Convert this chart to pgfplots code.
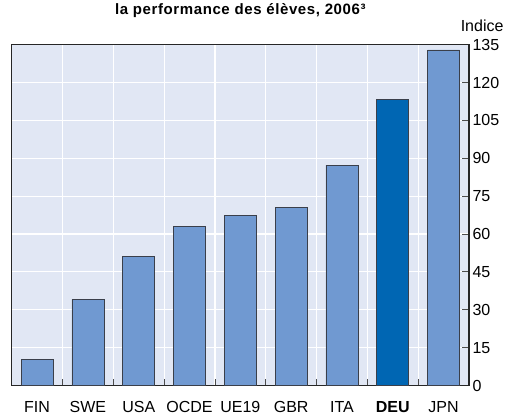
\documentclass[border=0pt]{standalone}
\usepackage{fontspec}
\setmainfont{Liberation Sans}
\usepackage{pgfplots}
\pgfplotsset{compat=1.18}
\definecolor{bg}{HTML}{E1E7F4}
\definecolor{barL}{HTML}{7099D1}
\definecolor{barD}{HTML}{0066B3}
\definecolor{edge}{HTML}{3A3F4A}
\begin{document}
\begin{tikzpicture}
\begin{axis}[
  set layers,
  at={(0,0)}, anchor=south west,
  scale only axis, width=457.3pt, height=340.8pt,
  xmin=-0.5, xmax=8.5, ymin=0, ymax=135,
  clip=false,
  axis background/.style={fill=bg},
  axis line style={black!85, line width=1.3pt},
  ytick={0,15,...,135},
  ytick pos=right, yticklabel pos=right,
  tick align=inside,
  xtick={0,...,8},
  xticklabels={FIN,SWE,USA,OCDE,UE19,GBR,ITA,\textbf{DEU},JPN},
  minor xtick={0.5,1.5,...,7.5},
  xtick pos=bottom,
  major tick length=6.5pt, minor tick length=6.5pt,
  every tick/.style={black!70, line width=0.8pt},
  major x tick style={draw=none},
  ymajorgrids, xminorgrids,
  major grid style={white, line width=1.2pt},
  minor grid style={white, line width=1.2pt},
  tick label style={font=\fontsize{16}{18}\selectfont},
  /pgf/number format/assume math mode=true,
  xticklabel style={anchor=base, yshift=-26.8pt, inner sep=0pt},
  yticklabel style={anchor=west},
  bar shift=0pt,
]
\addplot[ybar, bar width=32pt, fill=barL, draw=edge, line width=0.8pt] coordinates {
(0,10.2) (1,34.1) (2,51.2) (3,63.0) (4,67.4) (5,70.6) (6,87.3) (8,132.9)};
\addplot[ybar, bar width=32pt, fill=barD, draw=edge, line width=0.8pt] coordinates {
(7,113.5)};
\node[anchor=base, font=\bfseries\fontsize{15}{18}\selectfont\addfontfeature{LetterSpace=4}] at (rel axis cs:0.5,1) [yshift=29.7pt] {la performance des élèves, 2006³};
\node[anchor=base east, font=\fontsize{16}{18}\selectfont] at (rel axis cs:1,1) [xshift=38pt, yshift=13pt] {Indice};
\end{axis}
\pgfresetboundingbox
\useasboundingbox (-11.7pt,-29.5pt) rectangle (500.3pt,385.5pt);
\end{tikzpicture}
\end{document}
